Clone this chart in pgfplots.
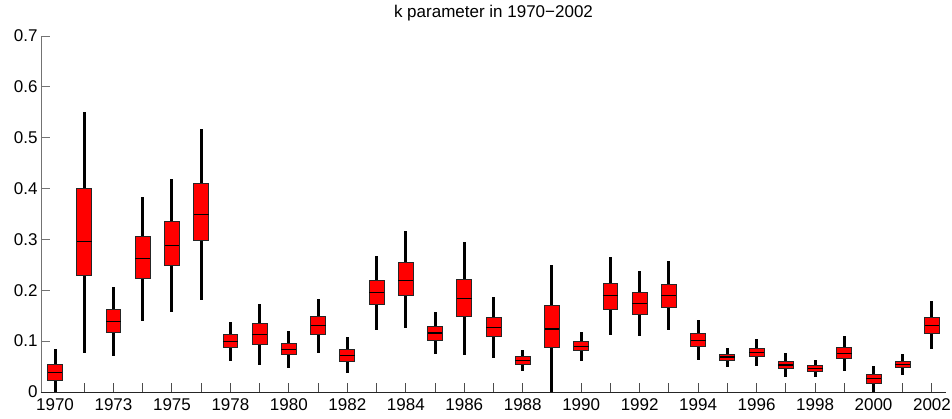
\documentclass[border=0pt]{standalone}
\usepackage{fontspec}
\setmainfont{Liberation Sans}
\usepackage{pgfplots}
\pgfplotsset{compat=1.18}
\usepgfplotslibrary{statistics}

% one box: position, lower whisker, lower quartile, median, upper quartile, upper whisker
\newcommand{\kbox}[6]{%
  \addplot[kbox, boxplot prepared={draw position=#1, lower whisker=#2,
    lower quartile=#3, median=#4, upper quartile=#5, upper whisker=#6}]
    coordinates {};}

\begin{document}
\begin{tikzpicture}
\begin{axis}[
  name=ax,
  scale only axis,
  width=905pt, height=356pt,
  xmin=-0.48, xmax=30.48,
  ymin=0, ymax=0.7,
  separate axis lines,
  axis x line*=bottom, axis y line*=left,
  x axis line style={-, draw=black!85, line width=0.9pt},
  y axis line style={-, draw=black!55, line width=0.9pt},
  tick align=inside,
  major tick length=9pt,
  xtick style={draw=black!70, line width=1pt},
  ytick style={draw=black!55, line width=0.9pt},
  xtick={0,...,30},
  xticklabels={1970,,1973,,1975,,1978,,1980,,1982,,1984,,1986,,1988,,1990,,1992,,1994,,1996,,1998,,2000,,2002},
  ytick={0,0.1,0.2,0.3,0.4,0.5,0.6,0.7},
  yticklabels={0,0.1,0.2,0.3,0.4,0.5,0.6,0.7},
  ticklabel style={font=\fontsize{17}{20}\selectfont},
  xticklabel style={yshift=-3pt},
  title={k parameter in 1970−2002},
  title style={font=\fontsize{17}{20}\selectfont, at={(0.5,1)}, anchor=base, yshift=12pt},
  boxplot/draw direction=y,
  boxplot/box extend=0.51,
  boxplot/whisker extend=0,
  kbox/.style={draw=black},
  boxplot/every box/.style={fill=red, draw=black!85, line width=0.9pt},
  boxplot/every whisker/.style={draw=black, line width=3pt},
  boxplot/every median/.style={draw=black, line width=1.2pt},
]
\kbox{0}{0}{0.023}{0.039}{0.0545}{0.084}
\kbox{1}{0.077}{0.230}{0.2955}{0.4005}{0.5505}
\kbox{2}{0.071}{0.118}{0.139}{0.163}{0.206}
\kbox{3}{0.140}{0.2235}{0.262}{0.305}{0.384}
\kbox{4}{0.158}{0.248}{0.288}{0.335}{0.418}
\kbox{5}{0.1815}{0.298}{0.349}{0.410}{0.517}
\kbox{6}{0.061}{0.088}{0.0996}{0.1127}{0.1376}
\kbox{7}{0.054}{0.094}{0.113}{0.135}{0.174}
\kbox{8}{0.048}{0.073}{0.083}{0.096}{0.119}
\kbox{9}{0.077}{0.113}{0.130}{0.148}{0.183}
\kbox{10}{0.037}{0.060}{0.072}{0.0845}{0.1075}
\kbox{11}{0.122}{0.172}{0.195}{0.220}{0.267}
\kbox{12}{0.126}{0.190}{0.220}{0.254}{0.317}
\kbox{13}{0.075}{0.102}{0.116}{0.129}{0.157}
\kbox{14}{0.073}{0.149}{0.184}{0.2215}{0.294}
\kbox{15}{0.0675}{0.109}{0.127}{0.1475}{0.186}
\kbox{16}{0.041}{0.055}{0.062}{0.069}{0.082}
\kbox{17}{0}{0.087}{0.124}{0.170}{0.249}
\kbox{18}{0.060}{0.081}{0.090}{0.100}{0.118}
\kbox{19}{0.113}{0.163}{0.189}{0.214}{0.266}
\kbox{20}{0.111}{0.153}{0.174}{0.195}{0.238}
\kbox{21}{0.121}{0.1665}{0.189}{0.212}{0.258}
\kbox{22}{0.062}{0.090}{0.1016}{0.1154}{0.1416}
\kbox{23}{0.050}{0.062}{0.069}{0.074}{0.0865}
\kbox{24}{0.051}{0.069}{0.077}{0.0865}{0.105}
\kbox{25}{0.0295}{0.046}{0.053}{0.061}{0.0767}
\kbox{26}{0.029}{0.040}{0.046}{0.0524}{0.063}
\kbox{27}{0.042}{0.065}{0.076}{0.0885}{0.111}
\kbox{28}{0}{0.017}{0.026}{0.035}{0.052}
\kbox{29}{0.034}{0.048}{0.054}{0.061}{0.075}
\kbox{30}{0.0845}{0.116}{0.130}{0.147}{0.178}
\end{axis}
\pgfresetboundingbox
\path[use as bounding box] ([shift={(-41pt,-27pt)}]ax.south west) rectangle ([shift={(6pt,36pt)}]ax.north east);
\end{tikzpicture}
\end{document}
